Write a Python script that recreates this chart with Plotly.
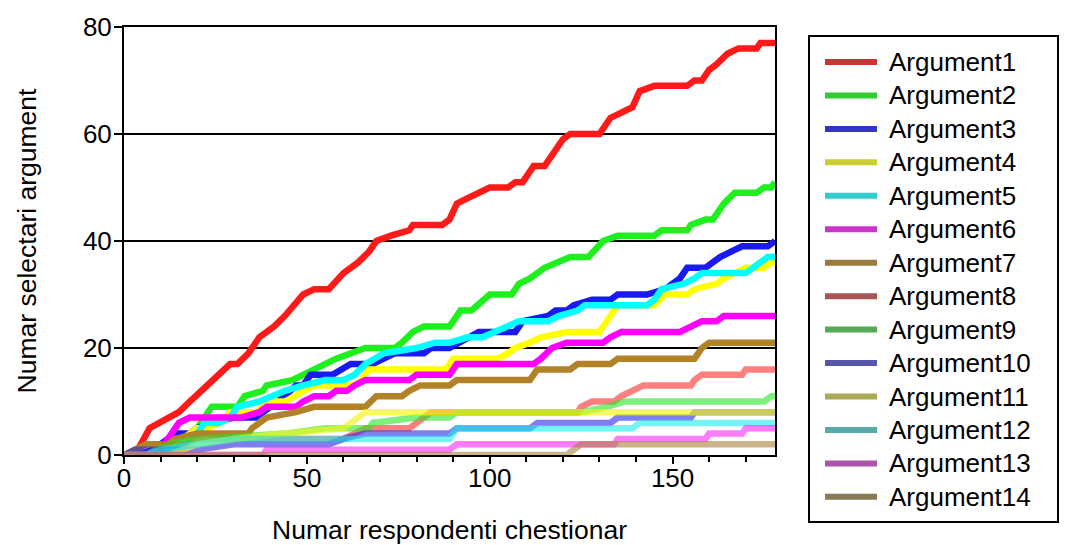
import plotly.graph_objects as go

# ---- data: vertices (respondent number, cumulative selections) ----
names = [f"Argument{i}" for i in range(1, 15)]

a1_x = [0,3,7,10,13,15,18,21,23,26,29,31,34,37,41,44,49,52,56,60,64,67,69,73,78,79,87,89,91,94,97,100,105,107,109,112,115,117,120,122,130,133,136,139,141,145,154,156,158,160,162,165,168,173,174,178]
a1_y = [0,0,5,6,7,8,10,12,13,15,17,17,19,22,24,26,30,31,31,34,36,38,40,41,42,43,43,44,47,48,49,50,50,51,51,54,54,56,59,60,60,63,64,65,68,69,69,70,70,72,73,75,76,76,77,77]

a2_x = [0,4,10,14,17,20,22,24,31,33,38,39,46,49,53,58,66,74,76,79,82,89,92,95,100,106,108,111,115,119,122,127,131,135,145,147,154,155,159,161,164,167,173,175,177,178]
a2_y = [0,0,1,2,3,5,7,9,9,11,12,13,14,15,16,18,20,20,21,23,24,24,27,27,30,30,32,33,35,36,37,37,40,41,41,42,42,43,44,44,47,49,49,50,50,51]

a3_x = [0,4,8,12,14,18,20,24,30,36,38,44,47,49,51,57,62,68,71,74,82,84,89,92,97,107,109,116,118,121,123,128,133,135,143,148,150,152,154,159,161,163,166,169,176,178]
a3_y = [0,0,1,3,4,4,5,6,7,7,8,11,13,13,15,15,17,17,18,19,19,20,20,21,23,23,25,26,27,27,28,29,29,30,30,31,32,33,35,35,36,37,38,39,39,40]

a4_x = [0,6,12,16,20,23,26,29,36,40,44,47,52,63,65,67,88,90,102,105,107,111,114,121,130,132,135,145,148,154,156,162,164,167,170,175,177,178]
a4_y = [0,0,2,3,5,5,6,8,8,10,10,11,13,13,14,16,16,18,18,19,20,21,22,23,23,25,28,28,30,30,31,32,33,34,35,35,36,36]

a5_x = [0,10,16,20,22,26,29,31,37,40,44,49,55,60,63,66,69,71,80,85,89,94,98,101,105,108,116,119,124,126,143,145,147,153,156,158,170,172,174,176,178]
a5_y = [0,0,2,4,6,6,7,9,10,11,12,13,14,14,15,17,18,19,20,21,21,22,22,23,24,25,25,26,27,28,28,29,31,32,33,34,34,35,36,37,37]

a6_x = [0,8,11,13,15,18,32,37,39,47,49,52,56,58,61,63,66,78,80,89,91,112,114,117,121,131,133,136,152,155,158,162,164,178]
a6_y = [0,0,2,4,6,7,7,8,9,9,10,11,11,12,12,13,14,14,15,15,17,17,18,20,21,21,22,23,23,24,25,25,26,26]

a7_x = [0,3,6,12,14,20,34,35,39,47,52,66,69,76,78,81,89,91,111,113,122,124,133,135,156,158,160,178]
a7_y = [0,1,2,2,3,4,4,5,7,8,9,9,11,11,12,13,13,14,14,16,16,17,17,18,18,20,21,21]

a8_x = [0,9,11,17,20,60,66,78,80,84,124,125,128,134,136,139,142,155,156,158,169,170,178]
a8_y = [0,0,2,2,3,3,5,5,6,8,8,9,10,10,11,12,13,13,14,15,15,16,16]

a9_x = [0,6,12,20,44,55,67,68,80,89,91,125,132,137,175,177,178]
a9_y = [0,0,2,3,4,5,5,6,7,7,8,8,9,10,10,11,11]

a10_x = [0,3,17,20,30,56,60,66,89,91,111,113,133,135,155,156,178]
a10_y = [0,1,1,1,2,2,3,4,4,5,5,6,6,7,7,8,8]

a11_x = [0,12,20,30,44,60,64,66,178]
a11_y = [0,0,2,3,4,5,7,8,8]

a12_x = [0,6,10,20,30,89,91,139,141,178]
a12_y = [0,0,1,2,3,3,5,5,6,6]

a13_x = [0,38,39,89,91,134,135,159,160,169,170,178]
a13_y = [0,0,1,1,2,2,3,3,4,4,5,5]

a14_x = [0,121,123,125,178]
a14_y = [0,0,1,2,2]

series_x = [a1_x, a2_x, a3_x, a4_x, a5_x, a6_x, a7_x, a8_x, a9_x, a10_x, a11_x, a12_x, a13_x, a14_x]
series_y = [a1_y, a2_y, a3_y, a4_y, a5_y, a6_y, a7_y, a8_y, a9_y, a10_y, a11_y, a12_y, a13_y, a14_y]

# ---- styles ----
plot_colors = [
    "rgb(255,25,25)", "rgb(30,240,30)", "rgb(25,25,240)", "rgb(255,255,0)",
    "rgb(0,255,255)", "rgb(255,0,255)", "rgb(178,130,40)",
    "rgba(255,40,40,0.6)", "rgba(40,230,40,0.6)", "rgba(40,40,230,0.6)",
    "rgba(245,245,20,0.65)", "rgba(30,235,235,0.6)", "rgba(250,40,250,0.6)",
    "rgba(170,130,60,0.6)",
]
legend_colors = [
    "#cc3333", "#33cc33", "#3333cc", "#cccc33", "#33cccc", "#cc33cc", "#9a7a3e",
    "#aa5555", "#55aa55", "#5555aa", "#aaaa55", "#55aaaa", "#aa55aa", "#887a55",
]

FONT = "Liberation Sans, Arial, sans-serif"
FS = 26
TITLE_FS = 26.5

fig = go.Figure()
for xs, ys, c, n in zip(series_x, series_y, plot_colors, names):
    fig.add_trace(go.Scatter(x=xs, y=ys, mode="lines", name=n, showlegend=False,
                             line=dict(color=c, width=6.5), hoverinfo="skip"))

# ---- legend box drawn in paper space (plot area in pixels: 124..775 x 27..455) ----
L, T, W, H = 124, 27, 651, 428
def px(xp):
    return (xp - L) / W
def py(yp):
    return (T + H - yp) / H

shapes = [dict(type="rect", xref="paper", yref="paper",
               x0=px(809), x1=px(1058), y0=py(522), y1=py(36),
               line=dict(color="black", width=2), fillcolor="white", layer="below")]
annotations = []
for i, (n, c) in enumerate(zip(names, legend_colors)):
    yc = 62 + 33.45 * i
    shapes.append(dict(type="line", xref="paper", yref="paper",
                       x0=px(825), x1=px(877), y0=py(yc), y1=py(yc),
                       line=dict(color=c, width=6)))
    annotations.append(dict(xref="paper", yref="paper", x=px(887), y=py(yc),
                            xanchor="left", yanchor="middle", text=n, showarrow=False,
                            font=dict(family=FONT, size=FS, color="black")))

fig.update_layout(
    width=1068, height=545,
    margin=dict(l=124, r=293, t=27, b=90),
    paper_bgcolor="white", plot_bgcolor="white",
    font=dict(family=FONT, size=FS, color="black"),
    showlegend=False,
    shapes=shapes, annotations=annotations,
    xaxis=dict(range=[0, 178], tickmode="array", tickvals=[0, 50, 100, 150],
               showgrid=False, zeroline=False, showline=True, mirror=True,
               linecolor="black", linewidth=2, ticks="outside", ticklen=7,
               tickwidth=2, tickcolor="black", automargin=False,
               ticklabelstandoff=-8,
               minor=dict(dtick=10, ticks="outside", ticklen=5, tickwidth=2,
                          tickcolor="black", showgrid=False),
               title=dict(text="Numar respondenti chestionar", standoff=29,
                          font=dict(size=TITLE_FS))),
    yaxis=dict(range=[0, 80], tickvals=[0, 20, 40, 60, 80],
               showgrid=True, gridcolor="black", gridwidth=2, zeroline=False,
               showline=True, mirror=True, linecolor="black", linewidth=2,
               ticks="outside", ticklen=8, tickwidth=2, tickcolor="black",
               ticklabelstandoff=-3, automargin=False,
               title=dict(text="Numar selectari argument", standoff=39,
                          font=dict(size=TITLE_FS))),
)

fig.write_html("out.html", config={"displayModeBar": False},
               post_script="document.body.style.margin='0';document.body.style.padding='0';")
